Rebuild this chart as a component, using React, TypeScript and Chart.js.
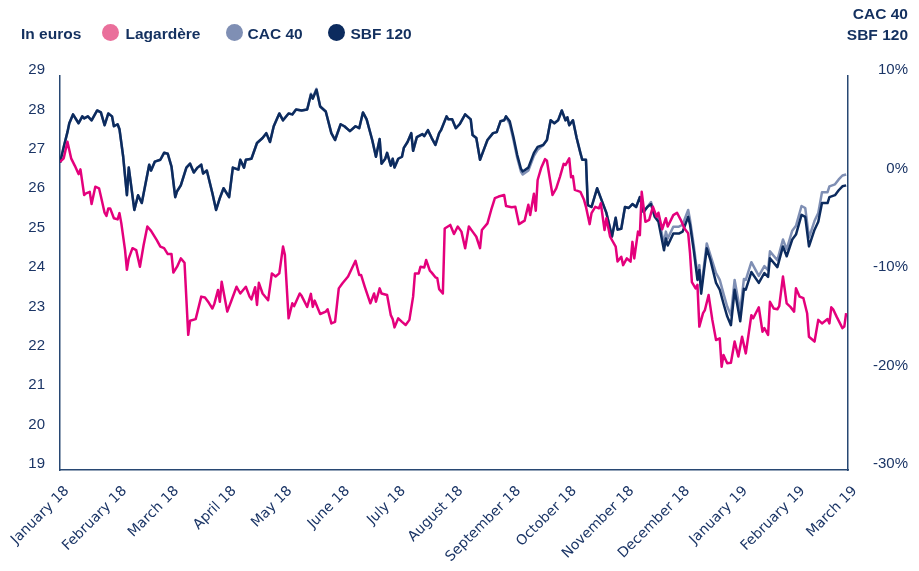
import React, { useEffect, useRef } from "react";
import { Chart, registerables } from "chart.js";

Chart.register(...registerables);

// ---- categories: month starts (day index from 1 Jan 2018) and tick labels ----
const monthStarts = [0, 31, 59, 90, 120, 151, 181, 212, 243, 273, 304, 334, 365, 396, 424];
const monthLabels = [
  "January 18", "February 18", "March 18", "April 18", "May 18", "June 18", "July 18",
  "August 18", "September 18", "October 18", "November 18", "December 18",
  "January 19", "February 19", "March 19",
];
const euroTicks = [19, 20, 21, 22, 23, 24, 25, 26, 27, 28, 29];
const pctTicks = [-30, -20, -10, 0, 10];

// ---- CAC 40 / SBF 120 (percent change, right axis) ----
const indexDays = [
  0, 2, 4, 5, 7, 10, 12, 13, 15, 17,
  20, 22, 24, 26, 28, 29, 31, 32, 34, 36,
  37, 40, 42, 44, 48, 49, 51, 54, 56, 58,
  60, 62, 63, 65, 68, 70, 72, 74, 76, 77,
  79, 82, 84, 86, 88, 91, 93, 96, 97, 99,
  100, 103, 106, 109, 111, 113, 115, 118, 120, 123,
  125, 127, 130, 133, 135, 136, 138, 140, 143, 146,
  148, 151, 153, 156, 159, 161, 163, 165, 168, 170,
  172, 173, 175, 176, 178, 179, 180, 182, 184, 185,
  187, 189, 190, 192, 195, 196, 198, 200, 202, 204,
  205, 208, 209, 211, 213, 215, 218, 221, 222, 224,
  226, 228, 230, 233, 235, 237, 239, 240, 242, 244,
  246, 248, 249, 252, 255, 257, 260, 262, 264, 266,
  268, 270, 272, 273, 274, 276, 278, 280, 281, 283,
  284, 286, 289, 291, 294, 297, 299, 300, 302, 304,
  306, 308, 310, 312, 314, 316, 318, 320, 322, 325,
  326, 327, 330, 333, 335, 336, 338, 339, 341, 343,
  344, 345, 348, 350, 353, 355, 357, 359, 361, 363,
  366, 368, 369, 372, 376, 379, 381, 382, 386, 389,
  391, 394, 396, 399, 401, 403, 406, 408, 410, 413,
  414, 417, 419, 421, 423,
];
const sbf120 = [
  1.2, 2.8, 4.3, 5.2, 6.1, 5.2, 5.9, 5.7, 5.9, 5.5,
  6.5, 6.3, 5.0, 6.2, 5.9, 4.9, 5.1, 4.6, 1.8, -2.1,
  0.7, -3.6, -2.1, -2.9, 1.0, 0.4, 1.3, 1.5, 2.2, 2.1,
  0.8, -2.3, -1.7, -1.1, 0.7, 1.1, 0.2, 0.7, 1.0, 0.1,
  0.4, -1.9, -3.6, -2.4, -1.4, -2.3, 0.7, 0.5, 1.5, 0.7,
  1.5, 1.6, 3.2, 3.7, 4.2, 3.3, 4.9, 6.2, 5.5, 6.2,
  6.1, 6.6, 6.5, 6.6, 8.1, 7.7, 8.6, 6.9, 6.4, 4.2,
  3.5, 5.1, 4.9, 4.4, 4.9, 4.7, 6.3, 5.6, 3.5, 1.8,
  3.6, 1.1, 1.6, 2.2, 0.9, 1.6, 0.7, 1.6, 1.8, 2.7,
  3.3, 4.2, 2.4, 3.8, 4.1, 3.9, 4.5, 3.7, 3.0, 4.2,
  4.5, 5.9, 5.6, 5.6, 4.7, 5.1, 6.1, 5.6, 4.0, 3.7,
  1.5, 2.5, 3.5, 4.2, 4.3, 5.4, 5.5, 5.9, 5.4, 3.8,
  2.0, 0.6, 0.3, 0.7, 2.2, 2.8, 3.0, 3.5, 5.5, 5.2,
  5.5, 6.5, 5.5, 5.8, 5.0, 5.5, 3.7, 2.2, 1.5, 1.5,
  -3.1, -3.3, -1.4, -2.4, -3.9, -6.3, -4.4, -5.6, -5.5, -3.3,
  -3.4, -3.0, -3.3, -2.3, -3.8, -3.3, -3.0, -4.3, -4.8, -7.7,
  -6.5, -7.2, -6.0, -6.0, -5.8, -5.3, -4.3, -5.1, -7.7, -10.7,
  -9.7, -12.1, -7.5, -8.7, -11.0, -11.7, -13.1, -14.4, -15.3, -11.7,
  -14.9, -11.6, -11.7, -9.9, -11.0, -10.0, -10.4, -8.5, -9.4, -7.3,
  -8.3, -6.6, -6.1, -4.1, -4.3, -7.3, -5.6, -4.8, -2.9, -2.9,
  -2.3, -2.1, -1.6, -1.2, -1.1,
];
const cac40 = [
  1.2, 2.8, 4.3, 5.2, 6.1, 5.2, 5.9, 5.7, 5.9, 5.5,
  6.5, 6.3, 5.0, 6.2, 5.9, 4.9, 5.1, 4.6, 1.8, -2.1,
  0.7, -3.6, -2.1, -2.9, 1.0, 0.4, 1.3, 1.5, 2.2, 2.1,
  0.8, -2.3, -1.7, -1.1, 0.7, 1.1, 0.2, 0.7, 1.0, 0.1,
  0.4, -1.9, -3.6, -2.4, -1.4, -2.3, 0.7, 0.5, 1.5, 0.7,
  1.5, 1.6, 3.2, 3.7, 4.2, 3.3, 4.9, 6.2, 5.5, 6.2,
  6.1, 6.6, 6.5, 6.6, 8.2, 7.8, 8.7, 6.9, 6.4, 4.2,
  3.5, 5.1, 4.9, 4.4, 4.9, 4.7, 6.3, 5.6, 3.5, 1.8,
  3.6, 1.1, 1.6, 2.2, 0.9, 1.6, 0.7, 1.6, 1.8, 2.7,
  3.3, 4.2, 2.4, 3.8, 4.1, 3.9, 4.5, 3.7, 3.0, 4.2,
  4.5, 5.9, 5.6, 5.6, 4.7, 5.1, 6.1, 5.6, 4.0, 3.7,
  1.5, 2.5, 3.5, 4.2, 4.3, 5.4, 5.5, 5.9, 5.1, 3.5,
  1.7, 0.3, 0.0, 0.4, 1.9, 2.5, 3.0, 3.5, 5.5, 5.2,
  5.5, 6.5, 5.5, 5.8, 5.0, 5.5, 3.7, 2.2, 1.5, 1.5,
  -3.1, -3.3, -1.4, -2.4, -3.9, -6.3, -4.4, -5.6, -5.5, -3.3,
  -3.4, -3.0, -3.3, -2.3, -3.8, -3.3, -2.8, -4.0, -4.4, -7.0,
  -5.8, -6.5, -5.3, -5.3, -5.1, -4.6, -3.6, -4.6, -7.2, -10.2,
  -9.2, -11.6, -7.0, -8.2, -10.0, -10.7, -12.1, -13.4, -14.3, -10.7,
  -13.9, -10.6, -10.7, -8.9, -10.3, -9.3, -9.7, -7.8, -8.7, -6.6,
  -7.6, -5.7, -5.2, -3.2, -3.4, -6.4, -4.7, -3.9, -1.8, -1.8,
  -1.2, -1.0, -0.5, -0.1, 0.0,
];

// ---- Lagardère share price (euros, left axis) ----
const lagDays = [
  0, 2, 4, 6, 8, 10, 11, 13, 14, 16,
  17, 19, 21, 22, 24, 25, 26, 27, 29, 31,
  32, 33, 35, 36, 37, 39, 41, 43, 45, 47,
  49, 52, 54, 56, 58, 60, 61, 63, 65, 67,
  69, 70, 73, 76, 78, 80, 82, 83, 85, 86,
  87, 90, 92, 95, 97, 100, 102, 103, 105, 106,
  107, 109, 112, 114, 116, 118, 120, 121, 123, 125,
  126, 129, 130, 133, 135, 136, 137, 140, 143, 144,
  146, 148, 150, 152, 155, 159, 161, 162, 164, 167,
  169, 170, 172, 173, 176, 178, 179, 180, 182, 184,
  186, 188, 190, 191, 193, 194, 196, 197, 199, 200,
  202, 203, 204, 206, 207, 210, 212, 214, 216, 218,
  220, 222, 224, 226, 227, 230, 232, 234, 236, 239,
  240, 243, 245, 247, 250, 252, 253, 255, 256, 257,
  259, 261, 262, 265, 267, 269, 271, 272, 274, 275,
  276, 277, 280, 282, 283, 285, 286, 288, 290, 291,
  293, 294, 296, 299, 300, 302, 303, 305, 307, 308,
  309, 311, 312, 313, 315, 317, 319, 321, 322, 324,
  326, 327, 330, 332, 334, 336, 338, 339, 340, 342,
  343, 344, 346, 347, 349, 351, 353, 355, 356, 357,
  359, 361, 363, 365, 367, 369, 372, 373, 376, 378,
  379, 381, 382, 384, 386, 387, 389, 391, 393, 395,
  396, 398, 400, 402, 403, 406, 408, 410, 413, 414,
  415, 416, 418, 421, 422, 423,
];
const lagardere = [
  26.82, 26.91, 27.33, 26.91, 26.72, 26.51, 26.63, 25.98, 26.02, 26.06,
  25.75, 26.19, 26.15, 25.95, 25.53, 25.45, 25.64, 25.64, 25.39, 25.36,
  25.52, 25.26, 24.58, 24.08, 24.37, 24.63, 24.58, 24.16, 24.71, 25.18,
  25.07, 24.84, 24.67, 24.63, 24.48, 24.48, 24.01, 24.16, 24.37, 24.26,
  22.43, 22.79, 22.83, 23.40, 23.38, 23.25, 23.10, 23.21, 23.57, 23.27,
  23.78, 23.02, 23.27, 23.65, 23.48, 23.65, 23.40, 23.33, 23.64, 23.19,
  23.75, 23.48, 23.31, 23.99, 23.91, 23.99, 24.67, 24.46, 22.85, 23.23,
  23.16, 23.48, 23.42, 23.14, 23.47, 23.14, 23.30, 22.96, 23.02, 23.08,
  22.72, 22.76, 23.61, 23.74, 23.91, 24.31, 23.95, 23.95, 23.65, 23.23,
  23.48, 23.27, 23.61, 23.48, 23.44, 22.93, 22.83, 22.62, 22.85, 22.76,
  22.68, 22.81, 23.40, 23.99, 23.99, 24.16, 24.14, 24.33, 24.06, 24.01,
  23.89, 23.87, 23.59, 23.48, 25.13, 25.22, 24.99, 25.18, 25.05, 24.63,
  25.18, 25.05, 24.92, 24.63, 25.09, 25.26, 25.60, 25.90, 25.94, 25.98,
  25.70, 25.67, 25.68, 25.24, 25.33, 25.73, 25.47, 26.01, 25.58, 26.36,
  26.68, 26.89, 26.85, 25.98, 26.15, 26.44, 26.77, 26.74, 26.91, 26.43,
  26.46, 26.11, 26.06, 25.85, 25.68, 25.24, 25.52, 25.68, 25.64, 25.77,
  25.09, 25.39, 24.92, 24.67, 24.29, 24.41, 24.20, 24.37, 24.29, 24.79,
  24.37, 25.05, 24.96, 26.06, 25.30, 25.35, 25.68, 25.43, 25.53, 25.11,
  25.39, 25.18, 25.47, 25.53, 25.35, 25.13, 25.01, 24.50, 23.77, 23.61,
  23.70, 22.64, 22.98, 23.06, 23.44, 22.81, 22.30, 22.34, 21.62, 21.92,
  21.71, 21.72, 22.26, 21.88, 22.38, 21.96, 22.93, 22.85, 23.13, 22.51,
  22.60, 22.43, 23.27, 23.10, 23.08, 23.16, 23.91, 23.23, 23.14, 23.02,
  23.61, 23.40, 23.36, 22.98, 22.38, 22.26, 22.81, 22.72, 22.83, 22.72,
  23.13, 23.08, 22.88, 22.60, 22.64, 22.98,
];

const PINK = "#e4007c";
const PINK_LEGEND = "#ea6f9b";
const GREY = "#7f8fb4";
const NAVY = "#0c2b5e";
const AXIS = "#284873";
const TEXT = "#1b3566";
const SANS = "'Liberation Sans', Arial, Helvetica, sans-serif";

const boldText: React.CSSProperties = {
  position: "absolute",
  fontFamily: SANS,
  fontWeight: 700,
  fontSize: "15.5px",
  lineHeight: "15.5px",
  color: "#13305f",
  whiteSpace: "nowrap",
};

function Dot({ left, color }: { left: number; color: string }) {
  return (
    <div
      style={{
        position: "absolute",
        left,
        top: 24,
        width: 17,
        height: 17,
        borderRadius: "50%",
        background: color,
      }}
    />
  );
}

export default function App() {
  const ref = useRef<HTMLCanvasElement>(null);

  useEffect(() => {
    document.body.style.margin = "0";
    const canvas = ref.current;
    if (!canvas) return;
    const line = (color: string) => ({
      borderColor: color,
      backgroundColor: color,
      borderWidth: 2.5,
      pointRadius: 0,
      tension: 0,
      fill: false,
      borderJoinStyle: "round" as const,
    });
    const chart = new Chart(canvas, {
      type: "line",
      data: {
        datasets: [
          {
            label: "Lagardère",
            data: lagDays.map((d, i) => ({ x: d, y: lagardere[i] })),
            yAxisID: "y",
            ...line(PINK),
          },
          {
            label: "SBF 120",
            data: indexDays.map((d, i) => ({ x: d, y: sbf120[i] })),
            yAxisID: "y1",
            ...line(NAVY),
          },
          {
            label: "CAC 40",
            data: indexDays.map((d, i) => ({ x: d, y: cac40[i] })),
            yAxisID: "y1",
            ...line(GREY),
          },
        ],
      },
      options: {
        animation: false,
        responsive: false,
        events: [],
        layout: { padding: { top: 76, right: 11, left: 0, bottom: 0 } },
        plugins: { legend: { display: false }, tooltip: { enabled: false } },
        scales: {
          x: {
            type: "linear",
            min: 0,
            max: 424,
            grid: { display: false, drawTicks: false },
            border: { display: true, color: AXIS, width: 1.5 },
            afterBuildTicks: (s: any) => {
              s.ticks = monthStarts.map((v) => ({ value: v }));
            },
            afterFit: (s: any) => {
              s.height = 101;
              s.paddingLeft = 0;
              s.paddingRight = 0;
            },
            ticks: {
              autoSkip: false,
              minRotation: 45,
              maxRotation: 45,
              padding: 13,
              labelOffset: 7,
              color: TEXT,
              font: { family: "'DejaVu Sans', sans-serif", size: 14 },
              callback: (v: any) => {
                const i = monthStarts.indexOf(Number(v));
                return i >= 0 ? monthLabels[i] : "";
              },
            },
          },
          y: {
            position: "left",
            min: 19,
            max: 29,
            grid: { display: false, drawTicks: false },
            border: { display: true, color: AXIS, width: 1.5 },
            afterBuildTicks: (s: any) => {
              s.ticks = euroTicks.map((v) => ({ value: v }));
            },
            afterFit: (s: any) => {
              s.width = 60;
            },
            ticks: {
              padding: 15,
              labelOffset: -6,
              color: TEXT,
              font: { family: SANS, size: 15 },
            },
          },
          y1: {
            position: "right",
            min: -30,
            max: 10,
            grid: { display: false, drawTicks: false },
            border: { display: true, color: AXIS, width: 1.5 },
            afterBuildTicks: (s: any) => {
              s.ticks = pctTicks.map((v) => ({ value: v }));
            },
            afterFit: (s: any) => {
              s.width = 60;
            },
            ticks: {
              crossAlign: "far",
              padding: 10,
              labelOffset: -6,
              color: TEXT,
              font: { family: SANS, size: 15 },
              callback: (v: any) => `${v}%`,
            },
          },
        },
      },
    });
    return () => chart.destroy();
  }, []);

  return (
    <div style={{ position: "relative", width: 919, height: 571, background: "#fff" }}>
      <canvas ref={ref} width={919} height={571} style={{ position: "absolute", left: 0, top: 0 }} />
      <div style={{ ...boldText, left: 21, top: 25.5 }}>In euros</div>
      <Dot left={102} color={PINK_LEGEND} />
      <div style={{ ...boldText, left: 125.5, top: 25.5 }}>Lagardère</div>
      <Dot left={226} color={GREY} />
      <div style={{ ...boldText, left: 247.5, top: 25.5 }}>CAC 40</div>
      <Dot left={328} color={NAVY} />
      <div style={{ ...boldText, left: 350.5, top: 25.5 }}>SBF 120</div>
      <div style={{ ...boldText, right: 11, top: 5.5, textAlign: "right" }}>CAC 40</div>
      <div style={{ ...boldText, right: 11, top: 26.5, textAlign: "right" }}>SBF 120</div>
    </div>
  );
}
